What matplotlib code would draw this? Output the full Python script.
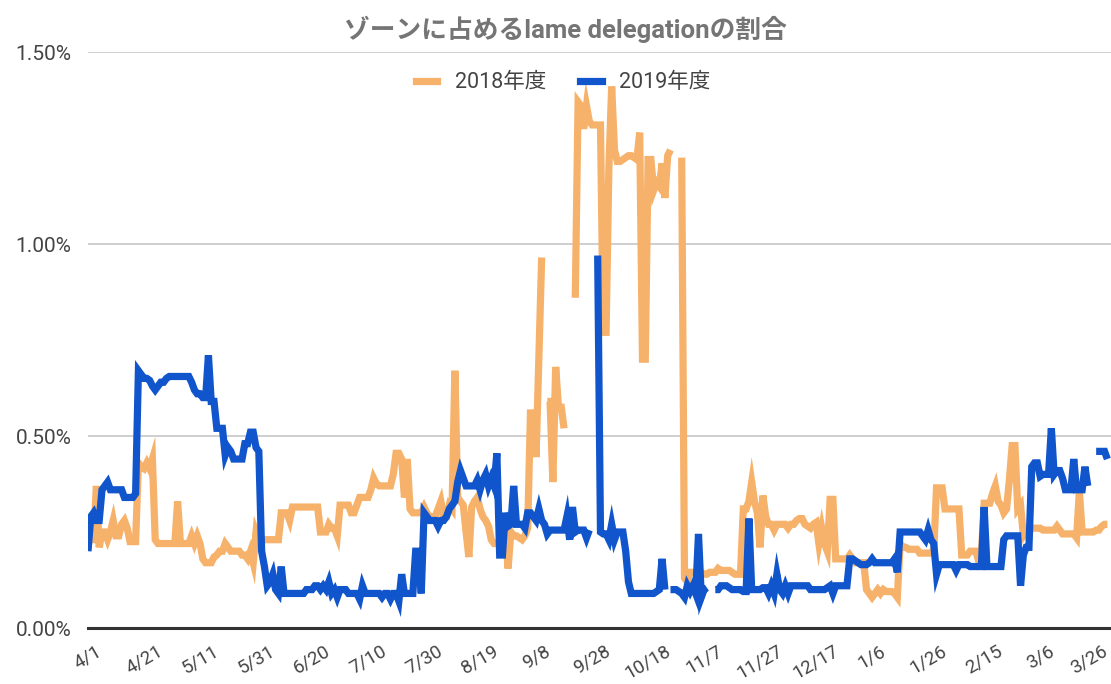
import numpy as np
import matplotlib
matplotlib.use("Agg")
import matplotlib.pyplot as plt
from matplotlib.lines import Line2D
from matplotlib.transforms import ScaledTranslation

nan = np.nan

# daily share (%) from 4/1, fiscal year 2018
fy2018 = [
    0.24, 0.23, 0.23, 0.37, 0.21, 0.25, 0.25, 0.23, 0.25, 0.28,
    0.24, 0.24, 0.27, 0.28, 0.26, 0.225, 0.225, 0.225, 0.43, 0.42,
    0.415, 0.43, 0.415, 0.44, 0.23, 0.22, 0.22, 0.22, 0.22, 0.22,
    0.22, 0.22, 0.33, 0.22, 0.22, 0.22, 0.22, 0.24, 0.22, 0.24,
    0.22, 0.18, 0.17, 0.17, 0.17, 0.185, 0.19, 0.20, 0.20, 0.22,
    0.21, 0.20, 0.20, 0.20, 0.20, 0.19, 0.19, 0.18, 0.20, 0.17,
    0.25, 0.23, 0.23, 0.23, 0.23, 0.23, 0.23, 0.23, 0.23, 0.30,
    0.30, 0.30, 0.28, 0.315, 0.315, 0.315, 0.315, 0.315, 0.315, 0.315,
    0.315, 0.315, 0.315, 0.25, 0.25, 0.25, 0.27, 0.26, 0.26, 0.24,
    0.32, 0.32, 0.32, 0.32, 0.30, 0.30, 0.32, 0.34, 0.34, 0.34,
    0.34, 0.36, 0.39, 0.375, 0.37, 0.37, 0.37, 0.37, 0.37, 0.40,
    0.455, 0.455, 0.44, 0.34, 0.44, 0.31, 0.30, 0.30, 0.30, 0.30,
    0.315, 0.30, 0.29, 0.29, 0.29, 0.31, 0.33, 0.29, 0.29, 0.32,
    0.31, 0.67, 0.34, 0.33, 0.32, 0.25, 0.185, 0.315, 0.33, 0.34,
    0.31, 0.29, 0.28, 0.265, 0.23, 0.22, 0.22, 0.22, 0.24, 0.26,
    0.155, 0.25, 0.24, 0.24, 0.235, 0.23, 0.24, 0.26, 0.56, 0.56,
    0.445, 0.70, 0.965, nan, 0.59, 0.59, 0.38, 0.68, 0.575, 0.575,
    0.52, nan, nan, nan, 0.86, 1.37, 1.36, 1.30, 1.36, 1.32,
    1.31, 1.31, 1.31, 1.31, 0.77, 0.77, 1.20, 1.41, 1.245, 1.215,
    1.215, 1.22, 1.225, 1.23, 1.23, 1.225, 1.22, 1.29, 0.70, 0.70,
    1.22, 1.22, 1.14, 1.16, 1.15, 1.21, 1.12, 1.23, 1.245, nan,
    nan, nan, 1.225, 0.13, 0.12, 0.145, 0.145, 0.145, 0.145, 0.145,
    0.14, 0.14, 0.145, 0.145, 0.145, 0.155, 0.15, 0.15, 0.15, 0.15,
    0.145, 0.14, 0.14, 0.14, 0.31, 0.31, 0.33, 0.38, 0.33, 0.30,
    0.21, 0.345, 0.29, 0.27, 0.27, 0.255, 0.27, 0.27, 0.27, 0.27,
    0.26, 0.27, 0.27, 0.28, 0.285, 0.285, 0.27, 0.265, 0.26, 0.27,
    0.275, 0.22, 0.26, 0.22, 0.20, 0.335, 0.335, 0.18, 0.18, 0.18,
    0.18, 0.18, 0.19, 0.18, 0.17, 0.17, 0.17, 0.17, 0.10, 0.09,
    0.08, 0.09, 0.10, 0.09, 0.10, 0.095, 0.095, 0.095, 0.09, 0.08,
    0.22, 0.21, 0.21, 0.205, 0.205, 0.205, 0.205, 0.195, 0.195, 0.195,
    0.195, 0.195, 0.20, 0.365, 0.365, 0.365, 0.31, 0.31, 0.31, 0.31,
    0.31, 0.31, 0.19, 0.19, 0.19, 0.20, 0.20, 0.20, 0.175, 0.19,
    0.325, 0.325, 0.325, 0.35, 0.37, 0.33, 0.32, 0.30, 0.31, 0.385,
    0.475, 0.475, 0.31, 0.32, 0.24, 0.25, 0.25, 0.26, 0.26, 0.26,
    0.26, 0.255, 0.255, 0.255, 0.255, 0.255, 0.265, 0.255, 0.245, 0.245,
    0.245, 0.245, 0.245, 0.235, 0.355, 0.25, 0.25, 0.25, 0.25, 0.25,
    0.255, 0.255, 0.265, 0.27, 0.27,
]

# daily share (%) from 4/1, fiscal year 2019
fy2019 = [
    0.20, 0.29, 0.30, 0.28, 0.28, 0.36, 0.37, 0.38, 0.36, 0.36,
    0.36, 0.36, 0.36, 0.34, 0.34, 0.34, 0.34, 0.35, 0.67, 0.66,
    0.65, 0.65, 0.645, 0.63, 0.62, 0.63, 0.64, 0.64, 0.65, 0.655,
    0.655, 0.655, 0.655, 0.655, 0.655, 0.655, 0.655, 0.64, 0.62, 0.61,
    0.61, 0.60, 0.60, 0.71, 0.59, 0.59, 0.52, 0.52, 0.52, 0.45,
    0.47, 0.46, 0.44, 0.44, 0.44, 0.44, 0.48, 0.48, 0.51, 0.51,
    0.47, 0.46, 0.20, 0.16, 0.11, 0.12, 0.14, 0.10, 0.09, 0.16,
    0.09, 0.09, 0.09, 0.09, 0.09, 0.09, 0.09, 0.09, 0.10, 0.10,
    0.10, 0.11, 0.11, 0.10, 0.11, 0.10, 0.12, 0.09, 0.10, 0.08,
    0.10, 0.10, 0.10, 0.09, 0.09, 0.09, 0.09, 0.075, 0.11, 0.09,
    0.09, 0.09, 0.09, 0.09, 0.09, 0.08, 0.09, 0.09, 0.075, 0.09,
    0.09, 0.07, 0.14, 0.09, 0.09, 0.09, 0.09, 0.20, 0.20, 0.09,
    0.30, 0.29, 0.28, 0.28, 0.28, 0.265, 0.28, 0.28, 0.29, 0.31,
    0.32, 0.33, 0.38, 0.41, 0.39, 0.37, 0.37, 0.37, 0.37, 0.385,
    0.36, 0.385, 0.40, 0.37, 0.39, 0.37, 0.455, 0.19, 0.19, 0.30,
    0.265, 0.27, 0.37, 0.27, 0.27, 0.27, 0.26, 0.30, 0.30, 0.29,
    0.28, 0.31, 0.28, 0.27, 0.245, 0.255, 0.255, 0.255, 0.255, 0.255,
    0.255, 0.29, 0.23, 0.315, 0.25, 0.255, 0.255, 0.255, 0.235, 0.255,
    nan, nan, 0.97, 0.25, 0.245, 0.245, 0.23, 0.27, 0.23, 0.25,
    0.25, 0.25, 0.20, 0.12, 0.09, 0.09, 0.09, 0.09, 0.09, 0.09,
    0.09, 0.09, 0.09, 0.095, 0.10, 0.18, 0.10, nan, 0.10, 0.10,
    0.10, 0.095, 0.09, 0.08, 0.11, 0.095, 0.11, 0.09, 0.245, 0.08,
    0.10, 0.105, nan, nan, 0.10, 0.10, 0.11, 0.11, 0.11, 0.105,
    0.10, 0.10, 0.10, 0.10, 0.095, 0.095, 0.285, 0.10, 0.10, 0.10,
    0.10, 0.105, 0.105, 0.09, 0.11, 0.09, 0.14, 0.10, 0.09, 0.11,
    0.09, 0.11, 0.11, 0.11, 0.11, 0.11, 0.11, 0.11, 0.10, 0.10,
    0.10, 0.10, 0.10, 0.10, 0.105, 0.11, 0.09, 0.11, 0.11, 0.11,
    0.11, 0.11, 0.18, 0.18, 0.175, 0.17, 0.165, 0.165, 0.165, 0.17,
    0.18, 0.17, 0.17, 0.17, 0.17, 0.17, 0.17, 0.17, 0.18, 0.145,
    0.25, 0.25, 0.25, 0.25, 0.25, 0.25, 0.25, 0.25, 0.24, 0.23,
    0.255, 0.23, 0.22, 0.14, 0.165, 0.165, 0.165, 0.165, 0.165, 0.165,
    0.15, 0.165, 0.165, 0.165, 0.165, 0.16, 0.16, 0.16, 0.16, 0.16,
    0.315, 0.16, 0.16, 0.16, 0.16, 0.16, 0.16, 0.23, 0.24, 0.24,
    0.24, 0.24, 0.24, 0.11, 0.19, 0.21, 0.21, 0.42, 0.43, 0.43,
    0.395, 0.40, 0.40, 0.40, 0.52, 0.40, 0.41, 0.41, 0.39, 0.36,
    0.36, 0.36, 0.44, 0.36, 0.36, 0.36, 0.42, 0.37, nan, nan,
    0.46, 0.46, 0.46, 0.46, 0.44,
]

tick_labels = ["4/1", "4/21", "5/11", "5/31", "6/20", "7/10", "7/30", "8/19",
               "9/8", "9/28", "10/18", "11/7", "11/27", "12/17", "1/6", "1/26",
               "2/15", "3/6", "3/26"]
y_ticks = [0.0, 0.5, 1.0, 1.5]
series_names = ["2018年度", "2019年度"]
colors = ["#f6b26b", "#1155cc"]

FONTS = ["Roboto", "Noto Sans CJK JP", "DejaVu Sans"]
plt.rcParams["font.family"] = FONTS

fig = plt.figure(figsize=(11.11, 6.84), dpi=100)
ax = fig.add_axes([88 / 1111, 1 - 628 / 684, 1 - 88 / 1111, (628 - 52) / 684])

for vals, col in zip([fy2018, fy2019], colors):
    ax.plot(np.arange(len(vals)), vals, color=col, lw=5.2,
            solid_joinstyle="miter", solid_capstyle="butt")

ax.set_xlim(0, 365.3)
ax.set_ylim(0, 1.5)

ax.set_yticks(y_ticks)
ax.set_yticklabels([f"{v:.2f}%" for v in y_ticks], fontsize=15, color="#444444")
ax.set_xticks(np.arange(len(tick_labels)) * 20)
ax.set_xticklabels(tick_labels, rotation=30, ha="center", fontsize=13.5,
                   color="#444444")
ax.tick_params(axis="both", length=0)
ax.tick_params(axis="y", pad=12)
ax.tick_params(axis="x", pad=10)

# keep the last date label inside the picture
last = ax.get_xticklabels()[-1]
last.set_transform(last.get_transform() + ScaledTranslation(-5 / 72, 0, fig.dpi_scale_trans))

ax.grid(axis="y", color="#cccccc", lw=1.3)
ax.set_axisbelow(True)
for s in ["top", "right", "left"]:
    ax.spines[s].set_visible(False)
ax.spines["bottom"].set_color("#333333")
ax.spines["bottom"].set_linewidth(2.2)
ax.spines["bottom"].set_zorder(5)

fig.text(565 / 1111, 1 - 29 / 684, "ゾーンに占めるlame delegationの割合",
         ha="center", va="center", fontsize=18.5, fontweight="bold",
         color="#757575")

handles = [Line2D([], [], color=c, lw=5.2) for c in colors]
fig.legend(handles, series_names, loc="center", ncol=2,
           bbox_to_anchor=(563 / 1111, 1 - 83 / 684), frameon=False,
           fontsize=15.5, handlelength=1.0, handletextpad=0.8,
           columnspacing=1.6, labelcolor="#444444")

fig.savefig("out.png", dpi=100)
